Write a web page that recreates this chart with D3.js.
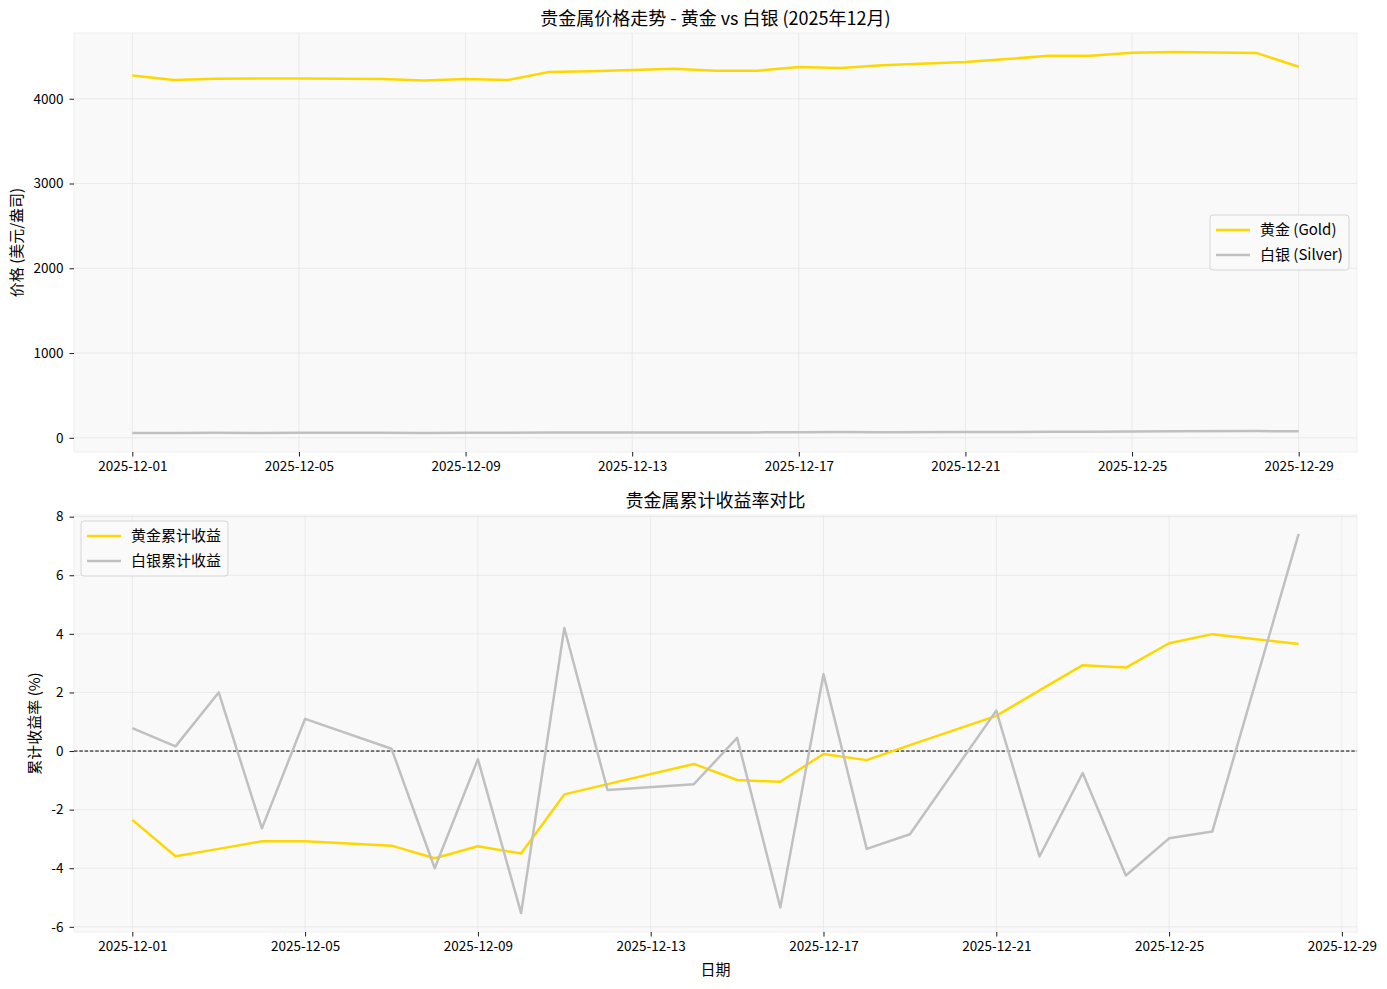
<!DOCTYPE html>
<html><head><meta charset="utf-8">
<script src="https://cdn.jsdelivr.net/npm/d3@7"></script>
<style>
html,body{margin:0;padding:0;background:#fff;}
svg{display:block;font-family:"Noto Sans CJK SC","Noto Sans",sans-serif;}
</style></head>
<body>
<script>
// ---- Data ----
const priceDates = ["2025-12-01","2025-12-02","2025-12-03","2025-12-04","2025-12-05","2025-12-07","2025-12-08","2025-12-09","2025-12-10","2025-12-11","2025-12-12","2025-12-14","2025-12-15","2025-12-16","2025-12-17","2025-12-18","2025-12-19","2025-12-21","2025-12-22","2025-12-23","2025-12-24","2025-12-25","2025-12-26","2025-12-28","2025-12-29"];
const goldPrice = [4275,4220,4236,4240,4240,4232,4216,4232,4220,4315,4325,4354,4330,4330,4374,4362,4395,4433,4468,4507,4507,4543,4551,4539,4378];
const silverPrice = [57.5,57.8,58.4,57.2,58.3,58.6,58.0,59.6,61.0,62.0,63.4,62.2,62.8,64.0,65.6,67.0,66.6,67.2,69.5,71.0,72.4,75.0,77.4,79.0,76.5];

const returnDates = priceDates.slice(0, 24);
const goldReturn = [-2.35,-3.59,-3.34,-3.08,-3.08,-3.23,-3.66,-3.25,-3.50,-1.48,-1.13,-0.44,-0.99,-1.05,-0.10,-0.31,0.20,1.20,2.07,2.93,2.85,3.68,3.99,3.65];
const silverReturn = [0.78,0.16,2.00,-2.64,1.10,0.08,-4.00,-0.28,-5.53,4.20,-1.33,-1.13,0.45,-5.34,2.62,-3.34,-2.84,1.38,-3.60,-0.75,-4.25,-2.98,-2.75,7.41];

const priceTicks = [0,1000,2000,3000,4000];
const returnTicks = [-6,-4,-2,0,2,4,6,8];
const priceDateTicks = ["2025-12-01","2025-12-05","2025-12-09","2025-12-13","2025-12-17","2025-12-21","2025-12-25","2025-12-29"];
const returnDateTicks = ["2025-12-01","2025-12-05","2025-12-09","2025-12-13","2025-12-17","2025-12-21","2025-12-25","2025-12-29"];

const titles = {top:"贵金属价格走势 - 黄金 vs 白银 (2025年12月)", bottom:"贵金属累计收益率对比"};
const yLabels = {top:"价格 (美元/盎司)", bottom:"累计收益率 (%)"};
const xLabel = "日期";
const legendTop = ["黄金 (Gold)","白银 (Silver)"];
const legendBottom = ["黄金累计收益","白银累计收益"];

// ---- Drawing ----
const W = 1387, H = 989;
const GOLD = "#FFD700", SILVER = "#C0C0C0";
const parse = d3.timeParse("%Y-%m-%d");
const fmt = d3.timeFormat("%Y-%m-%d");
const svg = d3.select("body").append("svg").attr("width", W).attr("height", H);

function padExtent(ext, f){ const r = ext[1]-ext[0]; return [ext[0]-r*f, ext[1]+r*f]; }
function padTime(ext, f){ const r = ext[1]-ext[0]; return [new Date(+ext[0]-r*f), new Date(+ext[1]+r*f)]; }

function panel(opt){
  const {x0,x1,y0,y1,dates,series,yTicks,xTicks,title,ylabel,ylabelX,legend,legendPos,zeroLine,xlabel} = opt;
  const dd = dates.map(parse);
  const x = d3.scaleTime().domain(padTime(d3.extent(dd),0.05)).range([x0,x1]);
  const allVals = series.flatMap(s=>s.values);
  const y = d3.scaleLinear().domain(padExtent(d3.extent(allVals),0.05)).range([y1,y0]);
  const g = svg.append("g");
  g.append("rect").attr("x",x0).attr("y",y0).attr("width",x1-x0).attr("height",y1-y0)
    .attr("fill","#f9f9f9").attr("stroke","#efefef").attr("stroke-width",1);
  // grid
  const xt = xTicks.map(parse);
  g.append("g").selectAll("line").data(xt).join("line")
    .attr("x1",d=>x(d)).attr("x2",d=>x(d)).attr("y1",y0).attr("y2",y1)
    .attr("stroke","#e6e6e6").attr("stroke-width",0.8);
  g.append("g").selectAll("line").data(yTicks).join("line")
    .attr("x1",x0).attr("x2",x1).attr("y1",d=>y(d)).attr("y2",d=>y(d))
    .attr("stroke","#e6e6e6").attr("stroke-width",0.8);
  // axes
  const xa = g.append("g").attr("transform",`translate(0,${y1})`)
    .call(d3.axisBottom(x).tickValues(xt).tickFormat(fmt).tickSize(4.5).tickPadding(5));
  const ya = g.append("g").attr("transform",`translate(${x0},0)`)
    .call(d3.axisLeft(y).tickValues(yTicks).tickFormat(d=>String(d)).tickSize(4.5).tickPadding(6));
  [xa,ya].forEach(a=>{
    a.select(".domain").remove();
    a.selectAll(".tick line").attr("stroke","#000").attr("stroke-width",0.9);
    a.selectAll(".tick text").attr("fill","#000").style("font-size","13.5px").style("font-family",'"Noto Sans CJK SC",sans-serif');
  });
  if(zeroLine){
    g.append("line").attr("x1",x0).attr("x2",x1).attr("y1",y(0)).attr("y2",y(0))
      .attr("stroke","#000").attr("stroke-width",1).attr("stroke-dasharray","3.5,1.8");
  }
  const line = d3.line().x((d,i)=>x(dd[i])).y(d=>y(d));
  series.forEach(s=>{
    g.append("path").datum(s.values).attr("d",line).attr("fill","none")
      .attr("stroke",s.color).attr("stroke-width",2.5).attr("stroke-linejoin","round");
  });
  // title
  g.append("text").attr("x",(x0+x1)/2).attr("y",y0-8).attr("text-anchor","middle")
    .style("font-size","18px").attr("fill","#000").text(title);
  // ylabel
  g.append("text").attr("transform",`translate(${ylabelX},${(y0+y1)/2}) rotate(-90)`)
    .attr("text-anchor","middle").attr("dy","0.35em").style("font-size","15px").attr("fill","#000").text(ylabel);
  if(xlabel){
    g.append("text").attr("x",(x0+x1)/2).attr("y",y1+43).attr("text-anchor","middle")
      .style("font-size","15px").attr("fill","#000").text(xlabel);
  }
  // legend
  const [lx,ly,lw] = legendPos;
  const lg = g.append("g").attr("transform",`translate(${lx},${ly})`);
  lg.append("rect").attr("x",0).attr("y",0).attr("width",lw).attr("height",55).attr("rx",3)
    .attr("fill","#fafafa").attr("fill-opacity",0.85).attr("stroke","#d6d6d6").attr("stroke-width",1);
  series.forEach((s,i)=>{
    const yy = 15 + i*25;
    lg.append("line").attr("x1",6).attr("x2",40).attr("y1",yy).attr("y2",yy)
      .attr("stroke",s.color).attr("stroke-width",2.5);
    lg.append("text").attr("x",50).attr("y",yy).attr("dy","0.35em")
      .style("font-size","15px").attr("fill","#000").text(legend[i]);
  });
}

panel({x0:74,x1:1357,y0:33,y1:452,dates:priceDates,
  series:[{values:goldPrice,color:GOLD},{values:silverPrice,color:SILVER}],
  yTicks:priceTicks,xTicks:priceDateTicks,title:titles.top,ylabel:yLabels.top,ylabelX:17,
  legend:legendTop,legendPos:[1210,215,139],zeroLine:false});

panel({x0:74,x1:1357,y0:515,y1:932,dates:returnDates,
  series:[{values:goldReturn,color:GOLD},{values:silverReturn,color:SILVER}],
  yTicks:returnTicks,xTicks:returnDateTicks,title:titles.bottom,ylabel:yLabels.bottom,ylabelX:35,
  legend:legendBottom,legendPos:[81,521,147],zeroLine:true,xlabel:xLabel});
</script>
</body></html>
